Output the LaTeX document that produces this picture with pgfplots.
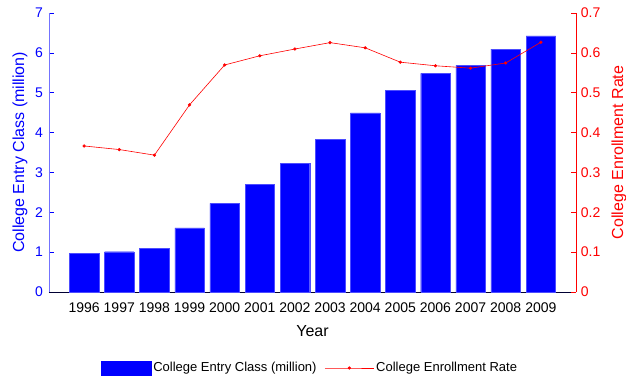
\documentclass[border=0pt]{standalone}
\usepackage{pgfplots}
\pgfplotsset{compat=1.18}
\usepackage{fontspec}
\setmainfont{Liberation Sans}

\definecolor{barblue}{RGB}{0,0,255}
\definecolor{linered}{RGB}{255,0,0}

\begin{document}
\begin{tikzpicture}[x=1pt,y=1pt]
% fixed page frame around the axes
\path[use as bounding box] (-49pt,-87pt) rectangle (577pt,292pt);
\pgfplotsset{
  common/.style={
    scale only axis,
    width=527pt, height=279.3pt,
    xmin=1995, xmax=2010,
    /pgf/number format/assume math mode=true,
    tick label style={font=\fontsize{14}{16}\selectfont},
    label style={font=\fontsize{16}{18}\selectfont},
    major tick length=5pt,
    tick align=inside,
    axis line style={-},
    clip=false,
  }
}
% Bars: college entry class (million), left axis
\begin{axis}[common,
  axis x line*=bottom, axis y line*=left,
  ymin=0, ymax=7, ytick={0,1,...,7},
  xtick={1996,...,2009},
  xticklabel style={/pgf/number format/1000 sep={}, yshift=-7pt},
  yticklabel style={text=barblue, xshift=-2.6pt},
  x axis line style={black!80!blue},
  y axis line style={blue!55},
  xtick style={black},
  ytick style={barblue},
  xlabel={Year},
  xlabel style={at={(axis description cs:0.5,0)}, anchor=center, yshift=-39pt},
  ylabel={College Entry Class (million)},
  ylabel style={text=barblue, at={(axis description cs:0,0.5)}, anchor=center, rotate=0, yshift=29pt},
]
\addplot[ybar, bar width=0.84, fill=barblue, draw=blue!70, line width=0.3pt]
  coordinates {
  (1996,0.97) (1997,1.01) (1998,1.10) (1999,1.61) (2000,2.22)
  (2001,2.70) (2002,3.22) (2003,3.83) (2004,4.49) (2005,5.06)
  (2006,5.48) (2007,5.68) (2008,6.09) (2009,6.42)};
\end{axis}

% Line: college enrollment rate, right axis
\begin{axis}[common,
  axis x line=none, axis y line*=right,
  ymin=0, ymax=0.7, ytick={0,0.1,...,0.7},
  yticklabel style={text=linered, xshift=1.3pt},
  y axis line style={linered},
  ytick style={linered},
  ylabel={College Enrollment Rate},
  ylabel style={text=linered, at={(axis description cs:1,0.5)}, anchor=center, yshift=-43pt},
  legend columns=2,
  legend style={draw=none, fill=none,
    at={(axis description cs:0.5,0)}, anchor=center, yshift=-76pt, xshift=-2.5pt,
    font=\fontsize{13}{15}\selectfont,
    /tikz/every even column/.append style={column sep=6pt}},
]
\addlegendimage{legend image code/.code={\fill[barblue] (0pt,-7pt) rectangle (50pt,7pt);}}
\addlegendentry{College Entry Class (million)}
\addplot[color=linered, line width=0.6pt, mark=*, mark size=1.3pt,
  legend image code/.code={\draw[linered, line width=0.6pt, mark=*, mark size=1.3pt, mark repeat=2, mark phase=2] plot coordinates {(0pt,0pt) (24.5pt,0pt) (49pt,0pt)};}]
  coordinates {
  (1996,0.366) (1997,0.357) (1998,0.343) (1999,0.469) (2000,0.569)
  (2001,0.592) (2002,0.609) (2003,0.625) (2004,0.612) (2005,0.576)
  (2006,0.567) (2007,0.561) (2008,0.574) (2009,0.626)};
\addlegendentry{College Enrollment Rate}
\end{axis}
\end{tikzpicture}
\end{document}
